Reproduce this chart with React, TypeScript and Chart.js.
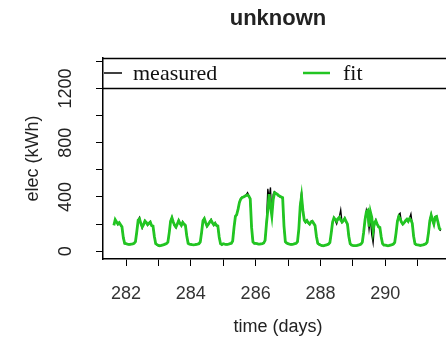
import React, { useEffect, useRef } from "react";
import { Chart, registerables } from "chart.js";

Chart.register(...registerables);

const chartTitle = "unknown";
const xTitle = "time (days)";
const yTitle = "elec (kWh)";
const seriesNames = ["measured", "fit"];

// hourly samples, first sample at day 281, 15:00
const startDay = 281 + 15 / 24;
const samplesPerDay = 24;

const xTickValues = [282, 283, 284, 285, 286, 287, 288, 289, 290, 291];
const xTickLabels = ["282", "", "284", "", "286", "", "288", "", "290", ""];
const yTickValues = [0, 200, 400, 600, 800, 1000, 1200, 1400];
const yTickLabels = ["0", "", "400", "", "800", "", "1200", ""];

const measured = [
  195, 228, 220, 196, 214, 190, 175, 95, 55,
  53, 50, 48, 49, 51, 52, 60, 68, 140, 232, 250, 200, 170, 200, 228, 210, 190, 210, 220, 185, 180, 105, 52, 45,
  38, 36, 40, 44, 47, 50, 55, 64, 130, 225, 252, 210, 185, 172, 205, 230, 200, 186, 218, 195, 185, 110, 56, 50,
  48, 46, 45, 47, 49, 50, 54, 65, 135, 228, 245, 205, 180, 195, 220, 235, 205, 190, 210, 185, 182, 100, 52, 45,
  52, 50, 48, 49, 51, 54, 57, 72, 170, 262, 265, 315, 355, 390, 400, 398, 410, 415, 432, 410, 380, 170, 65, 55,
  56, 54, 50, 51, 53, 55, 58, 78, 210, 460, 390, 470, 240, 420, 440, 430, 418, 405, 400, 395, 390, 180, 66, 58,
  52, 50, 48, 49, 51, 53, 56, 68, 160, 340, 440, 290, 225, 210, 230, 205, 196, 220, 225, 200, 185, 105, 55, 48,
  42, 38, 36, 40, 44, 46, 50, 62, 130, 210, 250, 225, 200, 235, 255, 305, 210, 220, 245, 215, 195, 105, 52, 42,
  40, 38, 38, 40, 43, 46, 50, 62, 135, 235, 305, 270, 160, 240, 120, 60, 190, 230, 195, 175, 170, 100, 52, 42,
  42, 40, 38, 40, 43, 46, 50, 62, 130, 225, 270, 280, 210, 195, 205, 220, 230, 215, 245, 275, 200, 105, 52, 45,
  44, 42, 40, 42, 45, 48, 52, 64, 130, 230, 275, 225, 195, 255, 260, 210, 165, 150,
];

const fit = [
  190, 232, 215, 200, 210, 195, 180, 100, 58,
  55, 52, 50, 50, 52, 54, 58, 70, 145, 228, 238, 205, 178, 195, 222, 212, 196, 205, 214, 188, 185, 108, 55, 48,
  42, 40, 42, 45, 48, 52, 56, 66, 135, 220, 246, 215, 190, 178, 200, 225, 205, 190, 212, 200, 190, 112, 58, 52,
  50, 48, 47, 48, 50, 52, 55, 68, 140, 225, 240, 210, 185, 198, 215, 228, 210, 195, 205, 190, 186, 104, 55, 48,
  55, 52, 50, 50, 52, 55, 58, 75, 175, 255, 270, 310, 360, 385, 395, 400, 405, 410, 415, 405, 385, 175, 68, 58,
  58, 55, 52, 52, 54, 56, 60, 80, 200, 300, 420, 330, 260, 380, 430, 425, 420, 410, 405, 400, 395, 185, 70, 60,
  55, 52, 50, 50, 52, 55, 58, 70, 165, 330, 405, 300, 230, 215, 225, 210, 200, 215, 220, 205, 190, 110, 58, 50,
  45, 42, 40, 42, 45, 48, 52, 65, 135, 215, 245, 235, 220, 240, 250, 230, 215, 225, 240, 220, 200, 110, 55, 45,
  42, 40, 40, 42, 45, 48, 52, 66, 140, 230, 290, 300, 180, 290, 250, 150, 210, 225, 200, 180, 175, 104, 55, 45,
  45, 42, 40, 42, 45, 48, 52, 65, 135, 220, 255, 240, 215, 200, 210, 225, 235, 220, 240, 230, 205, 110, 55, 48,
  46, 44, 42, 44, 46, 50, 54, 66, 135, 225, 265, 230, 200, 250, 255, 215, 170, 155,
];

const GREEN = "#22c522";
const TEXT = "#222";

export default function App() {
  const ref = useRef<HTMLCanvasElement>(null);

  useEffect(() => {
    const canvas = ref.current;
    if (!canvas) return;
    const times = fit.map((_, i) => startDay + i / samplesPerDay);

    const overlay = {
      id: "overlay",
      afterDraw(chart: any) {
        const ctx = chart.ctx as CanvasRenderingContext2D;
        const a = chart.chartArea;
        const ys = chart.scales.y;
        const cx = (a.left + a.right) / 2;
        ctx.save();
        ctx.strokeStyle = "#000";
        ctx.lineWidth = 1.5;
        // plot box top and legend box bottom
        ctx.beginPath();
        ctx.moveTo(a.left, a.top + 0.5);
        ctx.lineTo(a.right, a.top + 0.5);
        ctx.moveTo(a.left, a.top + 30.5);
        ctx.lineTo(a.right, a.top + 30.5);
        ctx.stroke();
        // legend samples
        const ly = a.top + 15;
        ctx.lineWidth = 1.5;
        ctx.strokeStyle = "#000";
        ctx.beginPath();
        ctx.moveTo(a.left + 1, ly);
        ctx.lineTo(a.left + 19, ly);
        ctx.stroke();
        ctx.lineWidth = 2.5;
        ctx.strokeStyle = GREEN;
        ctx.beginPath();
        ctx.moveTo(a.left + 200, ly);
        ctx.lineTo(a.left + 227, ly);
        ctx.stroke();
        ctx.fillStyle = "#111";
        ctx.font = '22px "Liberation Serif"';
        ctx.textAlign = "left";
        ctx.textBaseline = "middle";
        ctx.fillText(seriesNames[0], a.left + 30, ly + 1);
        ctx.fillText(seriesNames[1], a.left + 240, ly + 1);
        // title
        ctx.fillStyle = TEXT;
        ctx.textAlign = "center";
        ctx.font = 'bold 22px "Liberation Sans"';
        ctx.fillText(chartTitle, cx, 19);
        // x title
        ctx.font = '18px "Liberation Sans"';
        ctx.fillText(xTitle, cx, 327);
        // y title
        ctx.save();
        ctx.translate(33, (a.top + a.bottom) / 2);
        ctx.rotate(-Math.PI / 2);
        ctx.fillText(yTitle, 0, 0);
        ctx.restore();
        // y tick labels (rotated)
        yTickValues.forEach((v, i) => {
          const lab = yTickLabels[i];
          if (!lab) return;
          const py = ys.getPixelForValue(v);
          ctx.save();
          ctx.translate(66, py);
          ctx.rotate(-Math.PI / 2);
          ctx.fillText(lab, 0, 0);
          ctx.restore();
        });
        ctx.restore();
      },
    };

    const chart = new Chart(canvas, {
      type: "line",
      data: {
        datasets: [
          {
            label: seriesNames[0],
            data: measured.map((v, i) => ({ x: times[i], y: v })),
            borderColor: "#000",
            borderWidth: 1.3,
            pointRadius: 0,
            order: 1,
          },
          {
            label: seriesNames[1],
            data: fit.map((v, i) => ({ x: times[i], y: v })),
            borderColor: GREEN,
            borderWidth: 2.8,
            pointRadius: 0,
            order: 0,
          },
        ],
      },
      options: {
        responsive: false,
        animation: false,
        devicePixelRatio: 1,
        layout: { padding: { top: 58, right: 7, left: 0, bottom: 0 } },
        plugins: {
          legend: { display: false },
          title: { display: false },
          tooltip: { enabled: false },
        },
        elements: { line: { tension: 0 }, point: { radius: 0 } },
        scales: {
          x: {
            type: "linear",
            min: 281.29,
            max: 292.09,
            afterBuildTicks: (s: any) => {
              s.ticks = xTickValues.map((v) => ({ value: v }));
            },
            afterFit: (s: any) => {
              s.height = 84;
            },
            grid: {
              display: true,
              drawOnChartArea: false,
              drawTicks: true,
              tickLength: 7,
              color: "#000",
              lineWidth: 1,
            },
            border: { display: true, color: "#000", width: 1.5 },
            ticks: {
              autoSkip: false,
              maxRotation: 0,
              minRotation: 0,
              padding: 17,
              color: "#333",
              font: { family: "Liberation Sans", size: 18 },
              callback: (_v: any, i: number) => xTickLabels[i] ?? "",
            },
          },
          y: {
            type: "linear",
            min: -58,
            max: 1425,
            afterBuildTicks: (s: any) => {
              s.ticks = yTickValues.map((v) => ({ value: v }));
            },
            afterFit: (s: any) => {
              s.width = 103;
            },
            grid: {
              display: true,
              drawOnChartArea: false,
              drawTicks: true,
              tickLength: 7,
              color: "#000",
              lineWidth: 1,
            },
            border: { display: true, color: "#000", width: 1.5 },
            ticks: {
              padding: 0,
              font: { size: 10 },
              callback: () => "",
            },
          },
        },
      },
      plugins: [overlay],
    });
    return () => chart.destroy();
  }, []);

  return (
    <div
      style={{
        position: "fixed",
        left: 0,
        top: 0,
        width: 446,
        height: 343,
        overflow: "hidden",
        background: "#fff",
      }}
    >
      <canvas
        ref={ref}
        width={460}
        height={343}
        style={{ display: "block", width: 460, height: 343 }}
      />
    </div>
  );
}
